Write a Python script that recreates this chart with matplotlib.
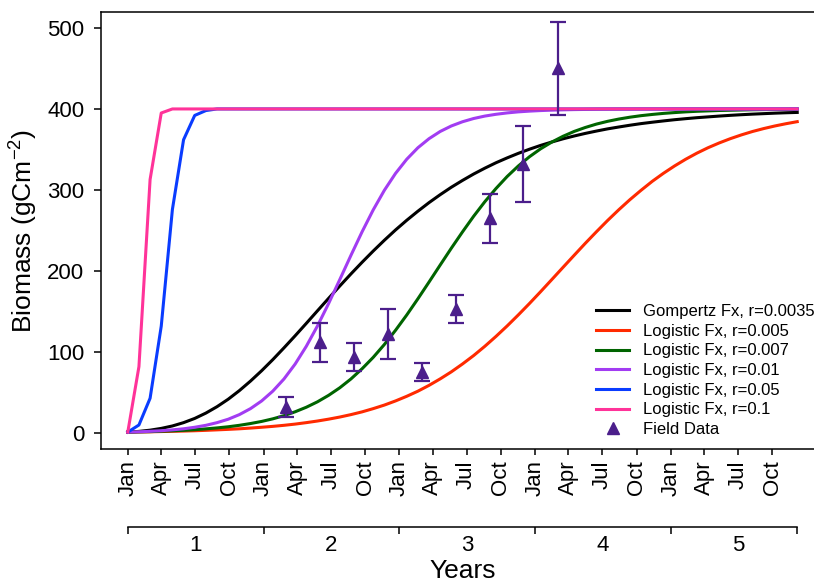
import matplotlib
matplotlib.use('Agg')
import matplotlib.pyplot as plt

plt.rcParams['font.family'] = ['Liberation Sans', 'DejaVu Sans']
plt.rcParams['mathtext.fontset'] = 'custom'
plt.rcParams['mathtext.rm'] = 'Liberation Sans'
plt.rcParams['mathtext.it'] = 'Liberation Sans:italic'

# model curves sampled every 30 days (biomass, gC m-2)
days = list(range(0, 1801, 30))

gompertz_0035 = [1.2, 2.1, 3.6, 5.8, 8.8, 12.9, 18.1, 24.7, 32.6, 41.8, 52.4, 64.2, 77.0, 90.7,
                 105.2, 120.1, 135.4, 150.9, 166.3, 181.5, 196.4, 210.8, 224.7, 238.0, 250.7,
                 262.6, 273.8, 284.4, 294.2, 303.4, 311.8, 319.7, 326.9, 333.6, 339.6, 345.2,
                 350.3, 355.0, 359.2, 363.1, 366.6, 369.8, 372.7, 375.4, 377.7, 379.9, 381.9,
                 383.6, 385.2, 386.7, 388.0, 389.2, 390.2, 391.2, 392.1, 392.9, 393.6, 394.2,
                 394.8, 395.3, 395.7]
logistic_005 = [1.2, 1.4, 1.6, 1.9, 2.2, 2.5, 2.9, 3.4, 4.0, 4.6, 5.3, 6.2, 7.2, 8.3, 9.6, 11.1,
                12.9, 14.9, 17.2, 19.8, 22.8, 26.2, 30.2, 34.6, 39.7, 45.4, 51.7, 58.9, 66.9, 75.6,
                85.3, 95.7, 107.1, 119.3, 132.2, 145.8, 159.9, 174.5, 189.4, 204.4, 219.3, 234.1,
                248.4, 262.3, 275.5, 288.0, 299.6, 310.6, 320.5, 329.6, 337.9, 345.4, 352.1, 358.0,
                363.3, 368.0, 372.2, 375.8, 379.0, 381.8, 384.3]
logistic_007 = [1.2, 1.5, 1.8, 2.3, 2.8, 3.4, 4.2, 5.2, 6.4, 7.8, 9.6, 11.8, 14.4, 17.6, 21.5, 26.3,
                31.9, 38.6, 46.6, 55.9, 66.8, 79.4, 93.5, 109.4, 126.9, 145.7, 165.7, 186.4, 207.4,
                228.2, 248.3, 267.6, 285.5, 301.8, 316.6, 329.6, 341.0, 350.8, 359.1, 366.2, 372.2,
                377.1, 381.3, 384.7, 387.5, 389.8, 391.7, 393.2, 394.5, 395.5, 396.4, 397.1, 397.6,
                398.1, 398.4, 398.7, 399.0, 399.2, 399.3, 399.4, 399.6]
logistic_01 = [1.2, 1.6, 2.2, 2.9, 4.0, 5.3, 7.2, 9.6, 12.9, 17.1, 22.8, 30.2, 39.7, 51.8, 66.8,
               85.2, 107.1, 132.2, 159.9, 189.4, 219.3, 248.4, 275.5, 299.7, 320.5, 337.9, 352.1,
               363.3, 372.2, 379.0, 384.2, 388.2, 391.2, 393.4, 395.1, 396.4, 397.3, 398.0, 398.5,
               398.9, 399.2, 399.4, 399.6, 399.7, 399.8, 399.8, 399.9, 399.9, 399.9, 400, 400, 400,
               400, 400, 400, 400, 400, 400, 400, 400, 400]

# fast curves (reach the plateau within months)
days_05 = [0, 30, 60, 90, 120, 150, 180, 210, 240, 1800]
logistic_05 = [1.2, 10, 43, 132, 276, 362, 392, 398, 400, 400]
days_1 = [0, 30, 60, 90, 120, 1800]
logistic_1 = [1.2, 82, 313, 395, 400, 400]

# field data (mean +/- error)
field_days = [426, 517, 608, 699, 790, 882, 973, 1064, 1156]
field_mean = [32, 112, 94, 122, 75, 153, 265, 332, 450]
field_err = [12, 24, 17, 31, 11, 17, 30, 47, 57]

month_ticks = [0, 90, 181, 273, 365, 455, 546, 638, 730, 820, 911, 1003,
               1095, 1185, 1276, 1368, 1460, 1550, 1641, 1733]
month_labels = ['Jan', 'Apr', 'Jul', 'Oct'] * 5
year_bounds = [0, 365, 730, 1095, 1460, 1800]
year_mids = [182.5, 547.5, 912.5, 1277.5, 1642.5]
year_labels = ['1', '2', '3', '4', '5']

fig = plt.figure(figsize=(8.14, 5.84), dpi=100)
ax = fig.add_axes([101 / 814, 1 - 449.3 / 584, 723 / 814, 437.6 / 584])

lw = 2.2
ax.plot(days, gompertz_0035, color='#000000', lw=lw, label='Gompertz Fx, r=0.0035')
ax.plot(days, logistic_005, color='#FF2A00', lw=lw, label='Logistic Fx, r=0.005')
ax.plot(days, logistic_007, color='#006400', lw=lw, label='Logistic Fx, r=0.007')
ax.plot(days, logistic_01, color='#A23CF2', lw=lw, label='Logistic Fx, r=0.01')
ax.plot(days_05, logistic_05, color='#0A3CFF', lw=lw, label='Logistic Fx, r=0.05')
ax.plot(days_1, logistic_1, color='#FF3399', lw=lw, label='Logistic Fx, r=0.1')

fc = '#4B1E8B'
ax.errorbar(field_days, field_mean, yerr=field_err, fmt='none', ecolor=fc,
            elinewidth=1.6, capsize=6, capthick=1.6, zorder=5)
ax.plot(field_days, field_mean, '^', color=fc, ms=8.5, ls='none', label='Field Data', zorder=6)

ax.set_xlim(-72, 1872)
ax.set_ylim(-20, 520)
ax.set_yticks([0, 100, 200, 300, 400, 500])
ax.set_xticks(month_ticks)
ax.set_xticklabels(month_labels, rotation=90)
ax.tick_params(axis='x', length=4, width=1.1, pad=4, labelsize=16)
ax.tick_params(axis='y', length=5, width=1.1, pad=7, labelsize=16)
for s in ax.spines.values():
    s.set_linewidth(1.1)
ax.set_ylabel('Biomass (gCm$^{-2}$)', fontsize=19, labelpad=5)

# second axis with the year numbers
ax2 = ax.twiny()
ax2.set_xlim(ax.get_xlim())
ax2.xaxis.set_ticks_position('bottom')
ax2.xaxis.set_label_position('bottom')
ax2.spines['bottom'].set_position(('outward', 55.7))
ax2.spines['bottom'].set_bounds(0, 1800)
ax2.spines['bottom'].set_linewidth(1.1)
for s in ['top', 'left', 'right']:
    ax2.spines[s].set_visible(False)
ax2.set_xticks(year_bounds)
ax2.set_xticklabels([])
ax2.set_xticks(year_mids, minor=True)
ax2.set_xticklabels(year_labels, minor=True)
ax2.tick_params(which='major', length=4.8, width=1.1, direction='out')
ax2.tick_params(which='minor', length=0, pad=6, labelsize=16)
ax2.set_xlabel('Years', fontsize=19, labelpad=2)

ax.legend(loc='center left', bbox_to_anchor=(596 / 814, 1 - 370.5 / 584),
          bbox_transform=fig.transFigure, frameon=False, fontsize=12,
          handlelength=2.0, handletextpad=0.8, labelspacing=0.28,
          borderpad=0, borderaxespad=0)

fig.savefig('out.png', dpi=100)
